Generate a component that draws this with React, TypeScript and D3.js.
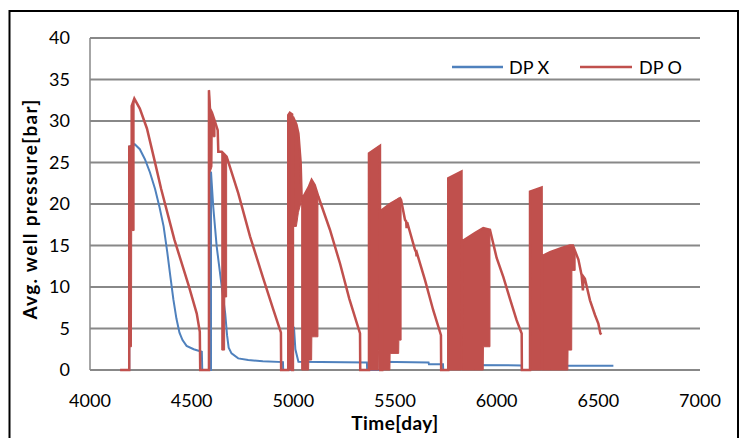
import React from "react";
import * as d3 from "d3";

const W = 743;
const H = 438;

const xTicks = [4000, 4500, 5000, 5500, 6000, 6500, 7000];
const yTicks = [0, 5, 10, 15, 20, 25, 30, 35, 40];

// DP X (blue) : [time(day), pressure(bar)]
const dpX: [number, number][] = [
  [4148, 0], [4193, 0], [4193, 26.9], [4220, 27.2], [4245, 26.6], [4270, 25.4], [4295, 23.8],
  [4320, 21.8], [4342, 19.6], [4362, 17.3], [4380, 14.2], [4395, 11.3], [4410, 8.5], [4425, 6.2],
  [4440, 4.5], [4455, 3.6], [4475, 2.9], [4510, 2.5], [4550, 2.2], [4552, 0], [4595, 0],
  [4595, 23.9], [4606, 19.7], [4623, 14.9], [4648, 10.0], [4665, 6.8], [4674, 4.2], [4682, 2.7],
  [4696, 2.0], [4729, 1.4], [4778, 1.2], [4850, 1.05], [4949, 0.95], [4950, 0], [4992, 0],
  [5003, 5.2], [5010, 2.5], [5025, 1.0], [5362, 0.9], [5363, 0], [5425, 0], [5426, 1.0],
  [5665, 0.9], [5667, 0.7], [5736, 0.7], [5737, 0], [5762, 0], [5762, 0.6], [6123, 0.55],
  [6124, 0], [6164, 0], [6164, 0.5], [6574, 0.5],
];

// DP O (red) main trace : [time(day), pressure(bar)]
const dpO: [number, number][] = [
  [4148, 0], [4193, 0], [4193, 26.9], [4205, 26.9], [4205, 31.8], [4218, 32.7], [4245, 31.5],
  [4280, 29.1], [4315, 25.5], [4350, 21.8], [4415, 15.7], [4485, 10.2], [4525, 6.8], [4540, 4.6],
  [4542, 0], [4585, 0], [4585, 33.7], [4590, 31.5], [4600, 31.0], [4615, 29.9], [4628, 28.9],
  [4631, 26.3], [4648, 26.3], [4660, 26.0], [4672, 25.7], [4729, 21.3], [4787, 16.1], [4850, 11.2],
  [4900, 7.4], [4939, 4.5], [4940, 0], [4975, 0], [4975, 30.7], [4983, 31.0], [4994, 30.8],
  [4994, 0], [4998, 0], [4998, 30.5], [5015, 29.6], [5025, 28.5], [5036, 25.0], [5041, 20.5],
  [5075, 22.0], [5090, 22.9], [5105, 22.3], [5123, 20.9], [5180, 16.9], [5230, 12.8], [5275, 8.6],
  [5328, 4.4], [5329, 0], [5372, 0], [5372, 26.1], [5426, 27.0], [5427, 0], [5437, 0],
  [5437, 19.3], [5475, 20.0], [5525, 20.7], [5530, 20.5], [5549, 18.1], [5555, 17.9], [5557, 17.1],
  [5560, 17.8], [5598, 14.5], [5604, 14.2], [5606, 13.7], [5609, 14.0], [5648, 10.8], [5688, 7.2],
  [5726, 4.2], [5727, 0], [5762, 0], [5762, 23.1], [5827, 23.9], [5828, 0], [5829, 15.5],
  [5893, 16.5], [5934, 17.1], [5967, 16.9], [6000, 13.5], [6033, 11.2], [6065, 8.6], [6098, 6.0],
  [6123, 4.4], [6124, 0], [6164, 0], [6164, 21.5], [6221, 22.0], [6222, 0], [6222, 13.7],
  [6263, 14.2], [6320, 14.7], [6360, 15.0], [6375, 15.0], [6386, 14.3], [6402, 13.3], [6418, 11.4],
  [6424, 9.6], [6428, 11.2], [6434, 11.0], [6459, 8.4], [6484, 6.6], [6500, 5.6], [6510, 4.4],
  [6516, 4.3],
];

// DP O dense oscillation blocks : [time, upper envelope, lower envelope]
const dpOBlock1: [number, number, number][] = [[4193, 26.9, 2.8], [4204, 26.9, 2.8], [4205, 31.8, 16.8], [4217, 32.3, 16.8]];
const dpOBlock2: [number, number, number][] = [[4585, 33.7, 0], [4587, 33.7, 23.8], [4590, 31.5, 23.8], [4600, 31.0, 24.5], [4601, 30.8, 28.1], [4615, 29.9, 28.1]];
const dpOBlock3: [number, number, number][] = [[4648, 26.3, 2.4], [4662, 26.0, 2.4], [4663, 25.9, 8.8], [4672, 25.7, 8.8]];
const dpOBlock4: [number, number, number][] = [[4975, 30.7, 0], [4983, 31.0, 0], [4994, 30.8, 0]];
const dpOBlock5: [number, number, number][] = [[4998, 30.5, 17.3], [5015, 29.6, 17.3], [5025, 28.5, 19.0], [5036, 25.0, 20.0]];
const dpOBlock6: [number, number, number][] = [[5041, 20.5, 0], [5075, 22.0, 0], [5076, 22.1, 1.2], [5090, 22.9, 1.2], [5091, 22.9, 4.0], [5105, 22.3, 4.0], [5121, 21.0, 4.0]];
const dpOBlock7: [number, number, number][] = [[5372, 26.1, 0], [5418, 26.9, 0], [5419, 26.9, 2.4], [5426, 27.0, 2.4]];
const dpOBlock8: [number, number, number][] = [[5437, 19.3, 0], [5475, 20.0, 0], [5476, 20.0, 2.0], [5518, 20.7, 2.0], [5519, 20.7, 3.6], [5530, 20.5, 3.6]];
const dpOBlock9: [number, number, number][] = [[5762, 23.1, 0], [5827, 23.9, 0]];
const dpOBlock10: [number, number, number][] = [[5829, 15.5, 0], [5893, 16.5, 0], [5934, 17.1, 0], [5935, 17.1, 2.8], [5967, 16.9, 2.8]];
const dpOBlock11: [number, number, number][] = [[6164, 21.5, 0], [6221, 22.0, 0]];
const dpOBlock12: [number, number, number][] = [[6222, 13.7, 0], [6263, 14.2, 0], [6320, 14.7, 0], [6350, 14.9, 0], [6351, 14.9, 2.4], [6369, 15.0, 2.4], [6370, 15.0, 12.0], [6386, 14.3, 12.0]];
const dpOBlocks = [dpOBlock1, dpOBlock2, dpOBlock3, dpOBlock4, dpOBlock5, dpOBlock6, dpOBlock7, dpOBlock8, dpOBlock9, dpOBlock10, dpOBlock11, dpOBlock12];

const seriesNames = ["DP X", "DP O"];
const BLUE = "#4F81BD";
const RED = "#C0504D";
const GRID = "#888888";
const FONT = "Lato, 'Open Sans', sans-serif";

export default function App() {
  const x = d3.scaleLinear().domain([4000, 7000]).range([90, 700]);
  const y = d3.scaleLinear().domain([0, 40]).range([370, 38]);

  const line = d3.line<[number, number]>().x((d) => x(d[0])).y((d) => y(d[1]));
  const area = d3
    .area<[number, number, number]>()
    .x((d) => x(d[0]))
    .y0((d) => y(d[2]))
    .y1((d) => y(d[1]));

  return (
    <svg
      width={W}
      height={H}
      style={{ position: "absolute", left: 0, top: 0, background: "#fff" }}
      fontFamily={FONT}
    >
      <rect x={0} y={0} width={W} height={H} fill="#fff" />
      <rect x={9.5} y={11} width={728.5} height={440} fill="none" stroke="#000" strokeWidth={2} />

      {yTicks.map((t) => (
        <line key={"g" + t} x1={x(4000)} x2={x(7000)} y1={y(t)} y2={y(t)} stroke={GRID} strokeWidth={2} />
      ))}
      <line x1={x(4000)} x2={x(4000)} y1={y(40)} y2={y(0)} stroke={GRID} strokeWidth={1.5} />

      {yTicks.map((t) => (
        <text key={"yl" + t} x={70} y={y(t)} dy="0.36em" textAnchor="end" fontSize={18} fill="#000">
          {t}
        </text>
      ))}
      {xTicks.map((t) => (
        <text key={"xl" + t} x={x(t)} y={407} textAnchor="middle" fontSize={18} fill="#000">
          {t}
        </text>
      ))}

      <text
        x={(x(4000) + x(7000)) / 2}
        y={430}
        textAnchor="middle"
        fontSize={19}
        fontWeight="bold"
        letterSpacing={0.5}
        fill="#000"
      >
        Time[day]
      </text>
      <text
        transform={`translate(37, ${(y(0) + y(40)) / 2 + 5}) rotate(-90)`}
        textAnchor="middle"
        fontSize={19}
        fontWeight="bold"
        letterSpacing={1.3}
        fill="#000"
      >
        Avg. well pressure[bar]
      </text>

      <path d={line(dpX) || ""} fill="none" stroke={BLUE} strokeWidth={2} />
      {dpOBlocks.map((b, i) => (
        <path key={"b" + i} d={area(b) || ""} fill={RED} stroke={RED} strokeWidth={1} />
      ))}
      <path d={line(dpO) || ""} fill="none" stroke={RED} strokeWidth={2.5} />

      <line x1={452} x2={503} y1={67} y2={67} stroke={BLUE} strokeWidth={2.5} />
      <text x={509} y={74} fontSize={18} fill="#000">
        {seriesNames[0]}
      </text>
      <line x1={580} x2={632} y1={67} y2={67} stroke={RED} strokeWidth={2.5} />
      <text x={639} y={74} fontSize={18} fill="#000">
        {seriesNames[1]}
      </text>
    </svg>
  );
}
